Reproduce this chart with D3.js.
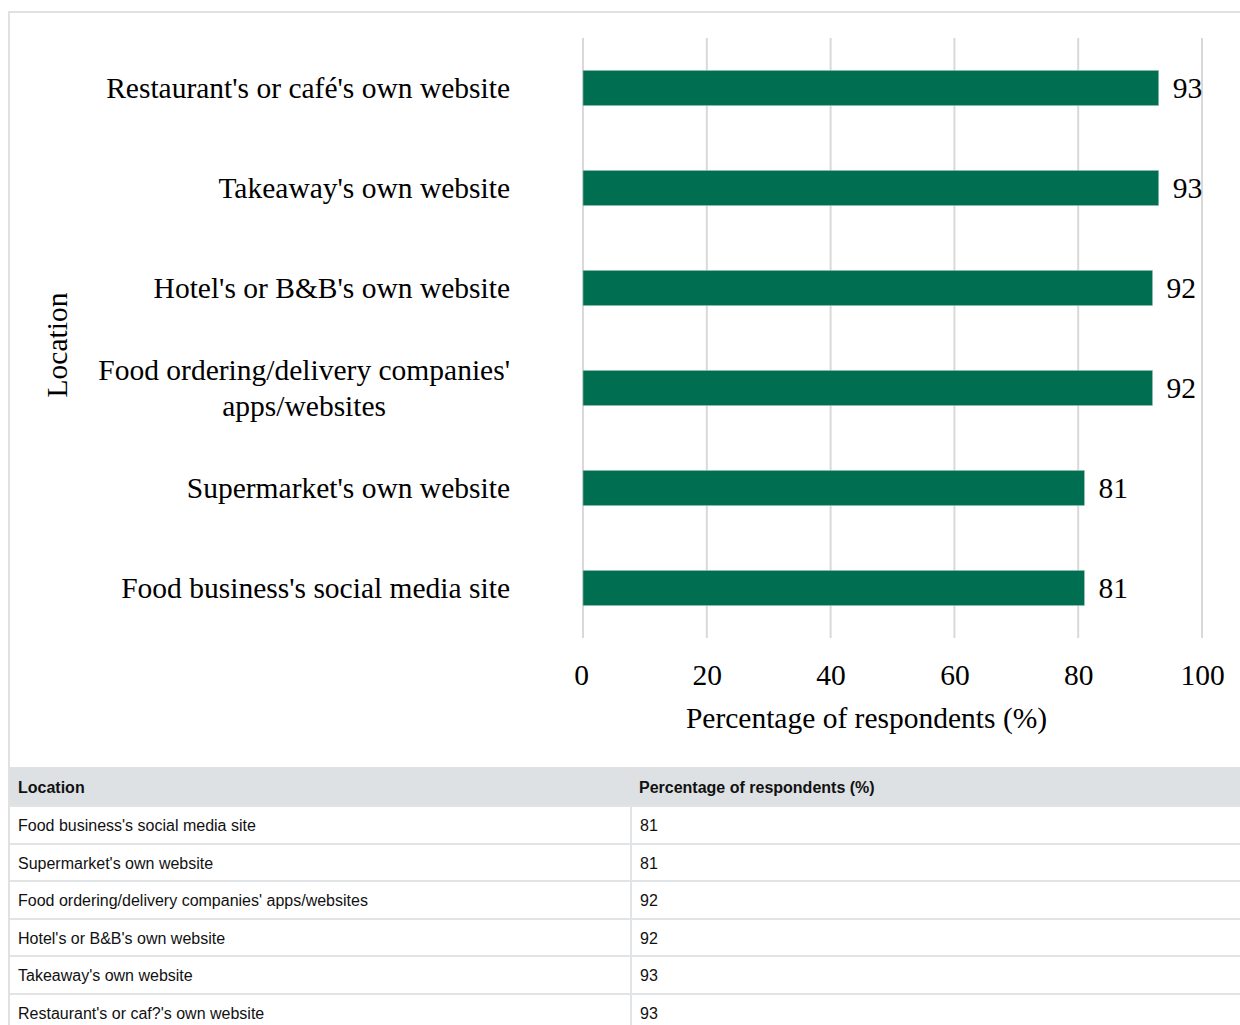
<!DOCTYPE html>
<html>
<head>
<meta charset="utf-8">
<script src="https://cdn.jsdelivr.net/npm/d3@7"></script>
<style>
  html, body { margin: 0; padding: 0; background: #fff; }
  body { width: 1240px; height: 1025px; overflow: hidden; position: relative; }
  #frame {
    position: absolute; left: 8px; top: 11px; width: 1260px; height: 1100px;
    border-top: 2px solid #e1e1e1; border-left: 2px solid #e1e1e1;
    box-sizing: border-box;
  }
  svg { position: absolute; left: 0; top: 0; }
  table {
    position: absolute; left: 10px; top: 767px; width: 1250px;
    border-collapse: collapse; font-family: "Liberation Sans", Arial, sans-serif;
    font-size: 16px; color: #111;
  }
  th, td { text-align: left; padding: 3px 8px 0 8px; border: 2px solid #e1e4e7; }
  th { background: #dde1e4; font-weight: bold; height: 35px; border-top: none; border-left: none; border-right: none; }
  td { height: 32.5px; }
  td:first-child { width: 604px; border-left: none; }
</style>
</head>
<body>
<div id="frame"></div>
<svg id="chart" width="1240" height="760"></svg>
<table id="tbl"></table>
<script>
// Categories, top to bottom in the bar chart
const categories = [
  "Restaurant's or café's own website",
  "Takeaway's own website",
  "Hotel's or B&B's own website",
  "Food ordering/delivery companies' apps/websites",
  "Supermarket's own website",
  "Food business's social media site"
];
// Wrapped label lines for the category axis
const categoryLines = [
  ["Restaurant's or café's own website"],
  ["Takeaway's own website"],
  ["Hotel's or B&B's own website"],
  ["Food ordering/delivery companies'", "apps/websites"],
  ["Supermarket's own website"],
  ["Food business's social media site"]
];
// Percentage of respondents (%)
const values = [93, 93, 92, 92, 81, 81];
const xTicks = [0, 20, 40, 60, 80, 100];

// Data table rows (listed in ascending order)
const tableHeader = ["Location", "Percentage of respondents (%)"];
const tableLocations = [
  "Food business's social media site",
  "Supermarket's own website",
  "Food ordering/delivery companies' apps/websites",
  "Hotel's or B&B's own website",
  "Takeaway's own website",
  "Restaurant's or caf?'s own website"
];
const tableValues = [81, 81, 92, 92, 93, 93];

const serif = "'Liberation Serif', 'Times New Roman', serif";
const fs = 29.5;
const barColor = "#006e51";

const svg = d3.select("#chart");

const x = d3.scaleLinear().domain([0, 100]).range([583, 1202]);
const y = d3.scaleBand().domain(categories).range([38, 638])
  .paddingInner(0.65).paddingOuter(0.325);

// Vertical gridlines
svg.append("g").selectAll("line").data(xTicks).join("line")
  .attr("x1", d => x(d)).attr("x2", d => x(d))
  .attr("y1", 38).attr("y2", 638)
  .attr("stroke", "#d9d9d9").attr("stroke-width", 2);

// Bottom axis: tick labels only
const xAxis = svg.append("g").attr("transform", "translate(0,638)")
  .call(d3.axisBottom(x).tickValues(xTicks).tickSize(0).tickPadding(47));
xAxis.select(".domain").remove();
xAxis.selectAll("text").attr("font-family", serif).attr("font-size", fs).attr("fill", "#000")
  .attr("dy", null);
xAxis.selectAll(".tick").filter(d => d === 0).select("text").attr("dx", -2);

svg.append("text")
  .attr("x", x(50) - 26).attr("y", 728)
  .attr("text-anchor", "middle")
  .attr("font-family", serif).attr("font-size", fs).attr("fill", "#000")
  .text("Percentage of respondents (%)");

// Bars
svg.append("g").selectAll("rect").data(categories).join("rect")
  .attr("x", x(0))
  .attr("y", d => y(d))
  .attr("width", (d, i) => x(values[i]) - x(0))
  .attr("height", y.bandwidth())
  .attr("fill", barColor)
  .attr("stroke", "#8fbfaf").attr("stroke-width", 0.6);

// Value labels
svg.append("g").selectAll("text").data(categories).join("text")
  .attr("x", (d, i) => x(values[i]) + 14)
  .attr("y", d => y(d) + y.bandwidth() / 2)
  .attr("dy", "0.35em")
  .attr("font-family", serif).attr("font-size", fs).attr("fill", "#000")
  .text((d, i) => values[i]);

// Category labels: block right-aligned, lines centred within the block
const labelRight = 510;
const lineGap = 36;
const labelG = svg.append("g");
categories.forEach((c, i) => {
  const lines = categoryLines[i];
  const cy = y(c) + y.bandwidth() / 2;
  const t = labelG.append("text")
    .attr("font-family", serif).attr("font-size", fs).attr("fill", "#000")
    .attr("text-anchor", "middle");
  const spans = lines.map((ln, k) => t.append("tspan")
    .attr("y", cy + (k - (lines.length - 1) / 2) * lineGap)
    .attr("dy", "0.35em")
    .text(ln));
  const w = d3.max(spans, s => s.node().getComputedTextLength());
  spans.forEach(s => s.attr("x", labelRight - w / 2));
});

// Category axis title
svg.append("text")
  .attr("transform", "translate(67,345) rotate(-90)")
  .attr("text-anchor", "middle")
  .attr("font-family", serif).attr("font-size", fs).attr("fill", "#000")
  .text("Location");

// Data table
const tbl = d3.select("#tbl");
tbl.append("thead").append("tr").selectAll("th").data(tableHeader).join("th").text(d => d);
tbl.append("tbody").selectAll("tr").data(tableLocations).join("tr")
  .selectAll("td").data((d, i) => [d, tableValues[i]]).join("td").text(d => d);
</script>
</body>
</html>
